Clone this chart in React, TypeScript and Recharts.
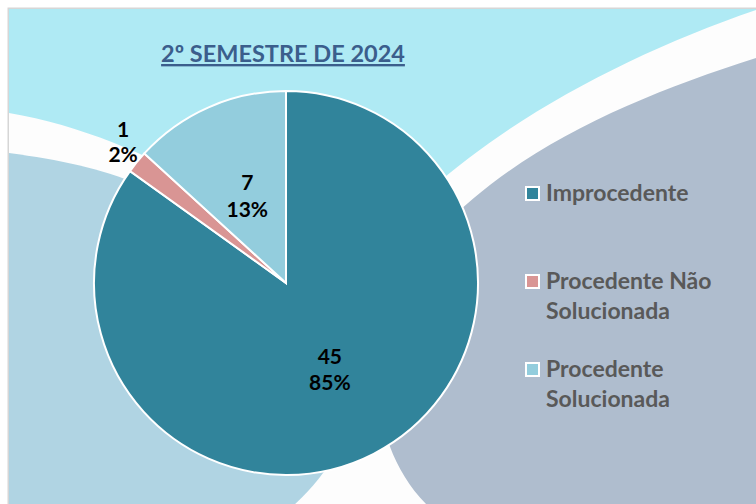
import React from "react";
import { PieChart, Pie, Cell, Legend } from "recharts";

// values
const categories = ["Improcedente", "Procedente Não Solucionada", "Procedente Solucionada"];
const counts = [45, 1, 7];
const sliceColors = ["#31849B", "#D99594", "#93CDDD"];
const title = "2º SEMESTRE DE 2024";

const pieData = categories.map((name, i) => ({ name, value: counts[i] }));

const RADIAN = Math.PI / 180;
const FONT = "Lato, 'Open Sans', sans-serif";

// two-line label: count above, percent below
const renderLabel = (props: any) => {
  const { cx, cy, midAngle, outerRadius, value, percent, index } = props;
  // the tiny slice gets its label pushed outside, like Excel's best fit
  const outside = index === 1;
  const r = outside ? outerRadius * 1.125 : outerRadius * 0.5;
  const angle = outside ? midAngle - 2 : midAngle;
  const x = cx + r * Math.cos(-angle * RADIAN);
  const y = cy + r * Math.sin(-angle * RADIAN);
  const gap = outside ? 25.5 : 26.5;
  return (
    <text
      x={x}
      y={y}
      textAnchor="middle"
      fill="#000"
      fontFamily={FONT}
      fontWeight={700}
      fontSize={21}
    >
      <tspan x={x} dy={-gap / 2} dominantBaseline="central">
        {value}
      </tspan>
      <tspan x={x} dy={gap} dominantBaseline="central">
        {`${Math.round(percent * 100)}%`}
      </tspan>
    </text>
  );
};

const renderLegend = (props: any) => {
  const { payload } = props;
  return (
    <div style={{ fontFamily: FONT, fontWeight: 700, fontSize: 23, color: "#595959" }}>
      {payload.map((entry: any, i: number) => (
        <div key={i} style={{ display: "flex", height: 88, lineHeight: "29.5px" }}>
          <div
            style={{
              width: 11,
              height: 11,
              marginTop: 8,
              marginRight: 6,
              background: entry.color,
              border: "2px solid #fff",
              flexShrink: 0,
            }}
          />
          <div style={{ width: 200 }}>{entry.value}</div>
        </div>
      ))}
    </div>
  );
};

// decorative backdrop of the slide (swooshes behind the pie)
const Backdrop = () => (
  <svg width={756} height={504} style={{ position: "absolute", left: 0, top: 0 }}>
    <defs>
      <clipPath id="area">
        <rect x={9} y={9} width={747} height={495} />
      </clipPath>
    </defs>
    <rect x={7.5} y={7.5} width={750} height={498} fill="#d6d6d6" />
    <g clipPath="url(#area)">
      <rect x={9} y={9} width={747} height={495} fill="#FDFDFD" />
      <path
        d="M 9 9 L 756 9 L 756 10 C 640 50 520 110 430 190 L 286 283 L 200 185 C 150 155 80 125 9 113 Z"
        fill="#AFEAF4"
      />
      <path
        d="M 9 153 C 60 160 100 168 140 185 L 286 283 L 330 330 C 362 400 352 452 293 506 L 9 506 Z"
        fill="#B0D4E3"
      />
      <path
        d="M 756 58 C 640 95 520 145 440 230 C 370 300 352 430 428 506 L 756 506 Z"
        fill="#AFBDCE"
      />
    </g>
    <text
      x={283}
      y={62}
      textAnchor="middle"
      fontFamily={FONT}
      fontWeight={700}
      fontSize={23.5}
      fill="#3B5E8C"
      textDecoration="underline"
    >
      {title}
    </text>
  </svg>
);

export default function App() {
  return (
    <div
      style={{
        position: "absolute",
        left: 0,
        top: 0,
        width: 756,
        height: 504,
        background: "#fff",
      }}
    >
      <Backdrop />
      <div style={{ position: "absolute", left: 0, top: 0 }}>
        <PieChart width={756} height={504} margin={{ top: 0, right: 0, bottom: 0, left: 0 }}>
          <Pie
            data={pieData}
            dataKey="value"
            nameKey="name"
            cx={286}
            cy={283}
            outerRadius={192}
            startAngle={90}
            endAngle={-270}
            stroke="#fff"
            strokeWidth={2}
            label={renderLabel}
            labelLine={false}
            isAnimationActive={false}
          >
            {pieData.map((d, i) => (
              <Cell key={d.name} fill={sliceColors[i]} />
            ))}
          </Pie>
          <Legend
            layout="vertical"
            align="right"
            verticalAlign="top"
            content={renderLegend}
            wrapperStyle={{ left: 525, top: 178, width: 230, right: "auto" }}
          />
        </PieChart>
      </div>
    </div>
  );
}
